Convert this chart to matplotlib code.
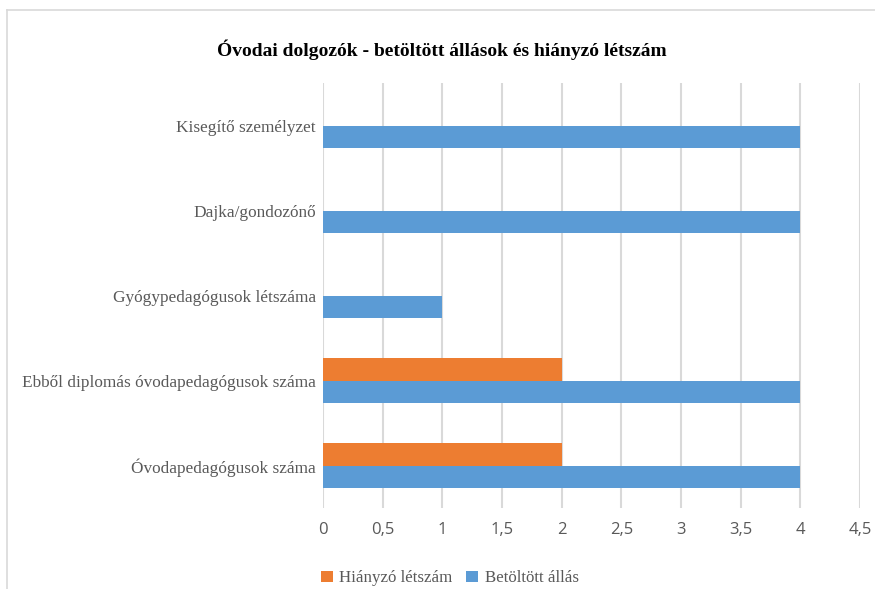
import matplotlib.pyplot as plt
from matplotlib.lines import Line2D
import numpy as np

categories = ["Óvodapedagógusok száma",
              "Ebből diplomás óvodapedagógusok száma",
              "Gyógypedagógusok létszáma",
              "Dajka/gondozónő",
              "Kisegítő személyzet"]
hianyzo = [2, 2, 0, 0, 0]
betoltott = [4, 4, 1, 4, 4]
xticks = [0, 0.5, 1, 1.5, 2, 2.5, 3, 3.5, 4, 4.5]

blue = "#5B9BD5"
orange = "#ED7D31"
gray = "#595959"
serif = ["Liberation Serif", "DejaVu Serif"]

fig = plt.figure(figsize=(8.75, 5.89), dpi=100)
ax = fig.add_axes([0.369, 0.1375, 0.614, 0.7215])

y = np.arange(len(categories))
h = 0.27
ax.barh(y - h / 2, betoltott, height=h, color=blue, label="Betöltött állás", zorder=3)
ax.barh(y + h / 2, hianyzo, height=h, color=orange, label="Hiányzó létszám", zorder=3)

ax.set_xlim(0, 4.5)
ax.set_ylim(-0.5, len(categories) - 0.5)
ax.set_xticks(xticks)
ax.set_xticklabels([str(t).replace(".", ",").replace(",0", "") for t in xticks],
                   fontsize=12, color=gray, family="Open Sans")
ax.set_yticks(y)
ax.set_yticklabels(categories, fontsize=12.4, color=gray, family=serif)
ax.tick_params(axis="y", length=0, pad=5)
ax.tick_params(axis="x", length=0, pad=10)
ax.grid(axis="x", color="#D9D9D9", linewidth=1.5, zorder=0)
for s in ax.spines.values():
    s.set_visible(False)

fig.text(0.505, 0.915, "Óvodai dolgozók - betöltött állások és hiányzó létszám",
         ha="center", va="center", fontsize=14, fontweight="bold", family=serif)

handles, labels = ax.get_legend_handles_labels()
fig.legend(handles[::-1], labels[::-1], loc="center", bbox_to_anchor=(0.514, 0.018),
           ncol=2, frameon=False, handlelength=0.7, handleheight=0.7,
           handletextpad=0.4, columnspacing=0.8,
           prop={"family": serif, "size": 12.2}, labelcolor=gray)

# chart border (light gray)
fig.add_artist(Line2D([0.008, 0.008], [0.0, 0.983], color="#D9D9D9", linewidth=1.2))
fig.add_artist(Line2D([0.008, 1.0], [0.983, 0.983], color="#D9D9D9", linewidth=1.2))

fig.savefig("out.png", dpi=100)
